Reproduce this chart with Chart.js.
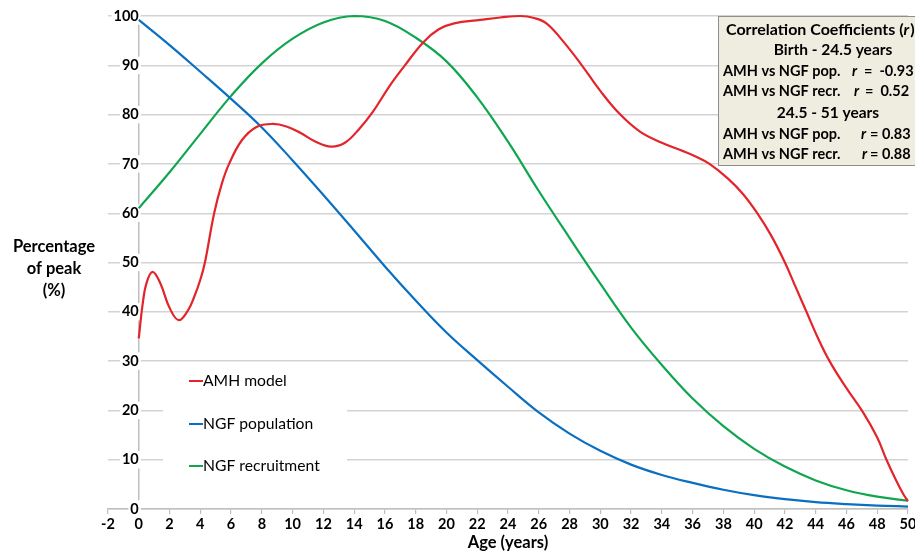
<!DOCTYPE html>
<html><head><meta charset="utf-8">
<script src="https://cdn.jsdelivr.net/npm/chart.js@4.4.0/dist/chart.umd.min.js"></script>
<style>html,body{margin:0;padding:0;background:#fff}#wrap{width:915px;height:553px;position:relative;overflow:hidden}</style>
</head><body><div id="wrap"><canvas id="c" width="915" height="553"></canvas></div>
<script>
// ---- data ----
const amhAges = [0,0.25,0.5,0.9,1.4,2,2.6,3.2,3.6,4.0,4.3,4.9,5.4,5.87,6.7,7.65,8.7,9.6,10.5,11.5,12.5,13.4,14.3,15.2,16.3,17.3,18.5,19.5,20.5,22.2,23.5,24.8,25.7,26.5,27.6,28.8,30,31.3,32.6,34,35.2,36.2,37.1,38.3,39.3,40.2,41.1,42,42.7,43.4,44.1,44.9,46,47.1,48,48.6,49.2,49.7,50];
const amhValues = [34.6,41.5,45.8,48.1,45.8,40.8,38.3,40.3,43,46.5,50,60,66,70,74.8,77.5,78.1,77.6,76.3,74.5,73.5,74.3,77,80.5,85.8,90,94.7,97.3,98.5,99.2,99.7,100,99.6,98.5,94.8,90,84.8,80,76.5,74.3,72.8,71.5,70,67,63.8,60,55.5,50,45,40,35,30,24.5,19.5,14.5,10,6,3,1.6];
const ngfAges = [0,2,4,6,8,10,12,14,16,18,20,22,24,26,28,30,32,34,36,38,40,42,44,46,48,50];
const ngfPopulation = [99.2,94.1,88.7,83.2,77.4,70.7,63.7,56.5,49.2,42.3,35.8,30.2,24.8,19.6,15.3,11.8,9.0,6.9,5.3,3.9,2.8,2.0,1.4,1.0,0.7,0.5];
const ngfRecruitment = [61,68.3,76.1,83.8,90.4,95.4,98.7,100,99.0,95.6,90.8,83.5,74.5,64.5,55.0,45.7,36.8,29.2,22.4,16.8,12.2,8.6,5.8,3.8,2.5,1.7];
const seriesNames = ['AMH model','NGF population','NGF recruitment'];
const seriesColors = ['#e3242b','#0b6fc1','#10a64f'];
const xMin = -2, xMax = 50, xStep = 2;
const yMin = 0, yMax = 100, yStep = 10;
const yTitleLines = ['Percentage','of peak','(%)'];
const xTitle = 'Age (years)';
const corrTitle = 'Correlation Coefficients (';
const corrHeads = ['Birth - 24.5 years','24.5 - 51 years'];
const corrLabels = ['AMH vs NGF pop.','AMH vs NGF recr.','AMH vs NGF pop.','AMH vs NGF recr.'];
const corrValues = ['=  -0.93','=  0.52','= 0.83','= 0.88'];

const pts = (xs, ys) => xs.map((x, i) => ({x: x, y: ys[i]}));
const FONT = 'Lato, "Open Sans", sans-serif';

const overlay = {
  id: 'overlay',
  beforeDatasetsDraw(chart) {
    const c = chart.ctx;
    c.save();
    c.fillStyle = '#ffffff';
    c.fillRect(163, 366, 184, 112);
    c.restore();
  },
  afterDatasetsDraw(chart) {
    const c = chart.ctx;
    c.save();
    // correlation box
    c.fillStyle = '#efeddf';
    c.fillRect(718, 16, 240, 150);
    c.strokeStyle = '#8e8e8e';
    c.lineWidth = 1;
    c.strokeRect(718.5, 16.5, 240, 149);
    c.fillStyle = '#000';
    c.textBaseline = 'middle';
    const tb = 'bold 16px ' + FONT, ti = 'italic bold 16px ' + FONT;
    c.font = tb; c.textAlign = 'left';
    c.fillText(corrTitle, 726, 30);
    let w = c.measureText(corrTitle).width;
    c.font = ti; c.fillText('r', 726 + w, 30);
    let w2 = c.measureText('r').width;
    c.font = tb; c.fillText(')', 726 + w + w2 + 1, 30);
    c.textAlign = 'center';
    c.font = 'bold 15.5px ' + FONT;
    c.fillText(corrHeads[0], 833, 50);
    c.fillText(corrHeads[1], 828, 113);
    const bold = 'bold 14.5px ' + FONT;
    const ital = 'italic bold 14.5px ' + FONT;
    const rowsY = [71, 91, 134, 154];
    const rX = [852, 854, 861, 862];
    const vX = [864, 865, 870, 870];
    c.textAlign = 'left';
    for (let i = 0; i < 4; i++) {
      c.font = bold; c.fillText(corrLabels[i], 723, rowsY[i]);
      c.font = ital; c.fillText('r', rX[i], rowsY[i]);
      c.font = bold; c.fillText(corrValues[i], vX[i], rowsY[i]);
    }
    c.restore();
  },
  afterDraw(chart) {
    const c = chart.ctx;
    c.save();
    c.fillStyle = '#000';
    c.textAlign = 'center';
    c.textBaseline = 'middle';
    c.font = 'bold 16.5px ' + FONT;
    yTitleLines.forEach((t, i) => c.fillText(t, 54, 247 + i * 22));
    // legend
    const ly = [381, 424, 466];
    c.textAlign = 'left';
    c.font = '15.7px ' + FONT;
    chart.data.datasets.forEach((ds, i) => {
      c.strokeStyle = ds.borderColor;
      c.lineWidth = 2;
      c.beginPath(); c.moveTo(189, ly[i]); c.lineTo(203, ly[i]); c.stroke();
      c.fillStyle = '#000';
      c.fillText(ds.label, 203, ly[i]);
    });
    c.restore();
  }
};

const commonDs = {pointRadius: 0, borderWidth: 2.2, fill: false, tension: 0.4, clip: 4};

new Chart(document.getElementById('c'), {
  type: 'line',
  data: {
    datasets: [
      Object.assign({label: seriesNames[0], data: pts(amhAges, amhValues), borderColor: seriesColors[0]}, commonDs),
      Object.assign({label: seriesNames[1], data: pts(ngfAges, ngfPopulation), borderColor: seriesColors[1]}, commonDs),
      Object.assign({label: seriesNames[2], data: pts(ngfAges, ngfRecruitment), borderColor: seriesColors[2]}, commonDs)
    ]
  },
  options: {
    responsive: false,
    animation: false,
    devicePixelRatio: 1,
    layout: {padding: {left: 108, right: 7, top: 16, bottom: 0}},
    plugins: {legend: {display: false}, tooltip: {enabled: false}},
    scales: {
      x: {
        type: 'linear', min: xMin, max: xMax,
        ticks: {stepSize: xStep, color: '#000', font: {family: FONT, weight: 'bold', size: 14.5}, padding: 2, maxRotation: 0, autoSkip: false},
        grid: {drawOnChartArea: false, drawTicks: true, tickLength: 5, color: '#bfbfbf', lineWidth: 1.2},
        border: {color: '#bfbfbf', width: 1.5},
        title: {display: true, text: xTitle, color: '#000', font: {family: FONT, weight: 'bold', size: 16.5}, padding: {top: 0, bottom: 0}},
        afterFit(s) { s.height = 44; s.paddingLeft = 0; s.paddingRight = 0; }
      },
      y: {
        type: 'linear', position: {x: 0}, min: yMin, max: yMax,
        ticks: {stepSize: yStep, color: '#000', font: {family: FONT, weight: 'bold', size: 14.5}, padding: 10,
          showLabelBackdrop: true, backdropColor: '#ffffff', backdropPadding: {x: 2, y: 0}},
        grid: {color: '#d3d3d3', lineWidth: 1.4, tickLength: 5},
        border: {color: '#bfbfbf', width: 1.5},
        afterFit(s) { s.width = 0; s.paddingTop = 0; s.paddingBottom = 0; }
      }
    }
  },
  plugins: [overlay]
});
</script>
</body></html>
